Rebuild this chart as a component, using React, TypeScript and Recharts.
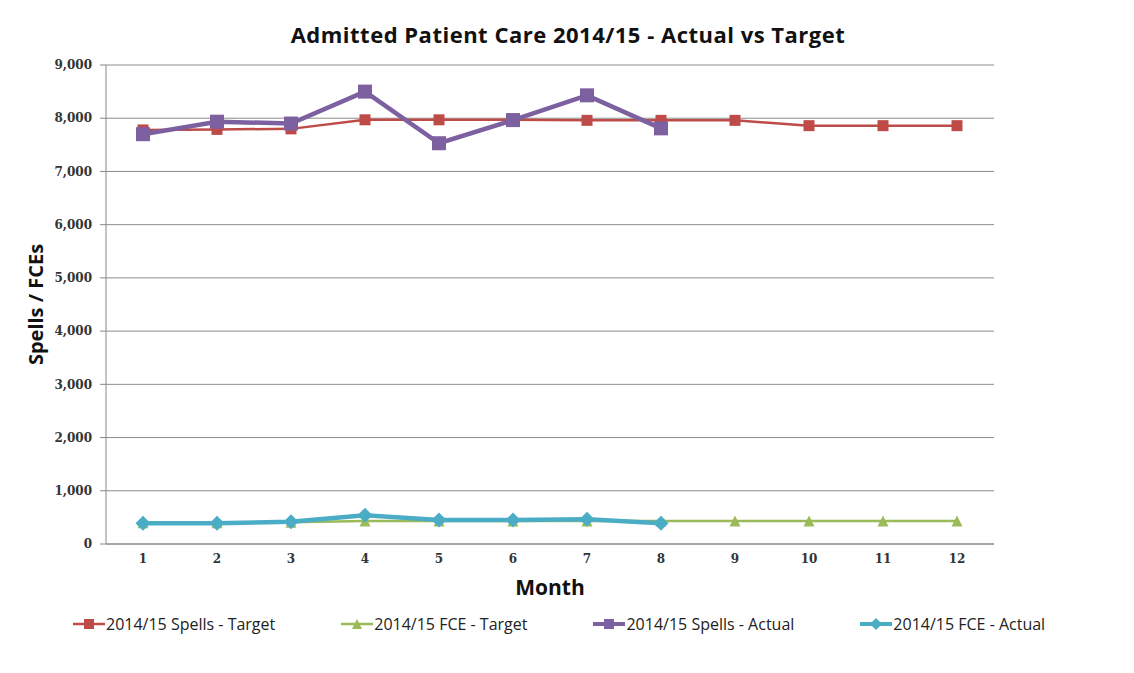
import React from "react";
import { LineChart, Line, XAxis, YAxis, CartesianGrid, Legend, Label } from "recharts";

const months = [1, 2, 3, 4, 5, 6, 7, 8, 9, 10, 11, 12];
const spellsTarget = [7780, 7790, 7800, 7970, 7970, 7970, 7960, 7960, 7960, 7860, 7860, 7860];
const fceTarget = [400, 400, 410, 430, 430, 430, 430, 430, 430, 430, 430, 430];
const spellsActual = [7700, 7935, 7900, 8500, 7530, 7965, 8430, 7810];
const fceActual = [390, 390, 420, 540, 450, 450, 465, 390];
const yTicks = [0, 1000, 2000, 3000, 4000, 5000, 6000, 7000, 8000, 9000];
const bounds = [0.5, 1.5, 2.5, 3.5, 4.5, 5.5, 6.5, 7.5, 8.5, 9.5, 10.5, 11.5, 12.5];

const RED = "#BE4B48";
const GREEN = "#9BBB59";
const PURPLE = "#7D60A0";
const CYAN = "#4BACC6";

const data = months.map((m, i) => ({
  month: m,
  spellsTarget: spellsTarget[i],
  fceTarget: fceTarget[i],
  spellsActual: spellsActual[i] ?? null,
  fceActual: fceActual[i] ?? null,
}));

const square = (size: number, color: string) => (p: any) => {
  if (p.cx == null || p.cy == null || p.value == null) return <g key={p.key} />;
  return <rect key={p.key} x={p.cx - size / 2} y={p.cy - size / 2} width={size} height={size} fill={color} />;
};

const triangle = (size: number, color: string) => (p: any) => {
  if (p.cx == null || p.cy == null) return <g key={p.key} />;
  const h = size / 2;
  return <polygon key={p.key} points={`${p.cx},${p.cy - h} ${p.cx + h},${p.cy + h} ${p.cx - h},${p.cy + h}`} fill={color} />;
};

const diamond = (size: number, color: string) => (p: any) => {
  if (p.cx == null || p.cy == null || p.value == null) return <g key={p.key} />;
  const h = size / 2;
  return <polygon key={p.key} points={`${p.cx},${p.cy - h} ${p.cx + h},${p.cy} ${p.cx},${p.cy + h} ${p.cx - h},${p.cy}`} fill={color} />;
};

const legendItems = [
  { name: "2014/15 Spells - Target", color: RED, shape: "square" },
  { name: "2014/15 FCE - Target", color: GREEN, shape: "triangle" },
  { name: "2014/15 Spells - Actual", color: PURPLE, shape: "square" },
  { name: "2014/15 FCE - Actual", color: CYAN, shape: "diamond" },
];

function LegendBox() {
  return (
    <div style={{ display: "flex", gap: 66, fontFamily: "'Open Sans', sans-serif", fontSize: 16, color: "#222" }}>
      {legendItems.map((it) => (
        <div key={it.name} style={{ display: "flex", alignItems: "center" }}>
          <svg width={32} height={14} style={{ marginRight: 1 }}>
            <line x1={0} y1={7} x2={32} y2={7} stroke={it.color} strokeWidth={it.color === PURPLE || it.color === CYAN ? 4 : 2.5} />
            {it.shape === "square" && <rect x={11} y={2} width={10} height={10} fill={it.color} />}
            {it.shape === "triangle" && <polygon points="16,2 21,12 11,12" fill={it.color} />}
            {it.shape === "diamond" && <polygon points="16,1 22,7 16,13 10,7" fill={it.color} />}
          </svg>
          <span style={{ whiteSpace: "nowrap" }}>{it.name}</span>
        </div>
      ))}
    </div>
  );
}

export default function App() {
  return (
    <div
      style={{
        position: "relative",
        width: 1122,
        height: 680,
        border: "1px solid #a0a0a0",
        margin: "-3px 0 0 -1px",
        background: "#fff",
      }}
    >
      <div
        style={{
          position: "absolute",
          left: 0,
          width: 1120,
          top: 13,
          textAlign: "center",
          fontFamily: "'Open Sans', sans-serif",
          fontWeight: 700,
          fontSize: 22,
          letterSpacing: 0.5,
          color: "#111",
        }}
      >
        Admitted Patient Care 2014/15 - Actual vs Target
      </div>
      <LineChart width={1118} height={666} data={data} margin={{ top: 59, right: 132, bottom: 76, left: 0 }}>
        <CartesianGrid horizontal vertical={false} stroke="#8c8c8c" />
        <XAxis
          xAxisId="b"
          dataKey="month"
          type="number"
          domain={[0.5, 12.5]}
          ticks={bounds}
          tick={false}
          height={0}
          axisLine={false}
          tickLine={{ stroke: "#888" }}
          tickSize={6}
        />
        <XAxis
          dataKey="month"
          type="number"
          domain={[0.5, 12.5]}
          ticks={months}
          height={30}
          tickLine={false}
          tickMargin={4}
          axisLine={{ stroke: "#888" }}
          tick={{ fontFamily: "'DejaVu Serif', serif", fontSize: 12, fontWeight: 700, fill: "#333" }}
        >
          <Label
            value="Month"
            position="bottom"
            offset={6}
            style={{ fontFamily: "'Open Sans', sans-serif", fontSize: 21, fontWeight: 700, fill: "#111" }}
          />
        </XAxis>
        <YAxis
          width={98}
          domain={[0, 9000]}
          ticks={yTicks}
          interval={0}
          tickFormatter={(v: number) => v.toLocaleString("en-US")}
          axisLine={{ stroke: "#888" }}
          tickLine={{ stroke: "#888" }}
          tickSize={6}
          tickMargin={8}
          tick={{ fontFamily: "'DejaVu Serif', serif", fontSize: 12, fontWeight: 700, fill: "#333" }}
        >
          <Label
            value="Spells / FCEs"
            angle={-90}
            position="insideLeft"
            offset={28}
            style={{ fontFamily: "'Open Sans', sans-serif", fontSize: 20, fontWeight: 700, fill: "#111", textAnchor: "middle" }}
          />
        </YAxis>
        <Legend
          verticalAlign="bottom"
          content={() => <LegendBox />}
          wrapperStyle={{ left: 65, top: 607, width: 1050 }}
        />
        <Line dataKey="spellsTarget" name="2014/15 Spells - Target" stroke={RED} strokeWidth={2.5} dot={square(11, RED)} isAnimationActive={false} />
        <Line dataKey="fceTarget" name="2014/15 FCE - Target" stroke={GREEN} strokeWidth={2.5} dot={triangle(11, GREEN)} isAnimationActive={false} />
        <Line dataKey="spellsActual" name="2014/15 Spells - Actual" stroke={PURPLE} strokeWidth={4.5} dot={square(14, PURPLE)} isAnimationActive={false} connectNulls={false} />
        <Line dataKey="fceActual" name="2014/15 FCE - Actual" stroke={CYAN} strokeWidth={4.5} dot={diamond(15, CYAN)} isAnimationActive={false} connectNulls={false} />
      </LineChart>
    </div>
  );
}
